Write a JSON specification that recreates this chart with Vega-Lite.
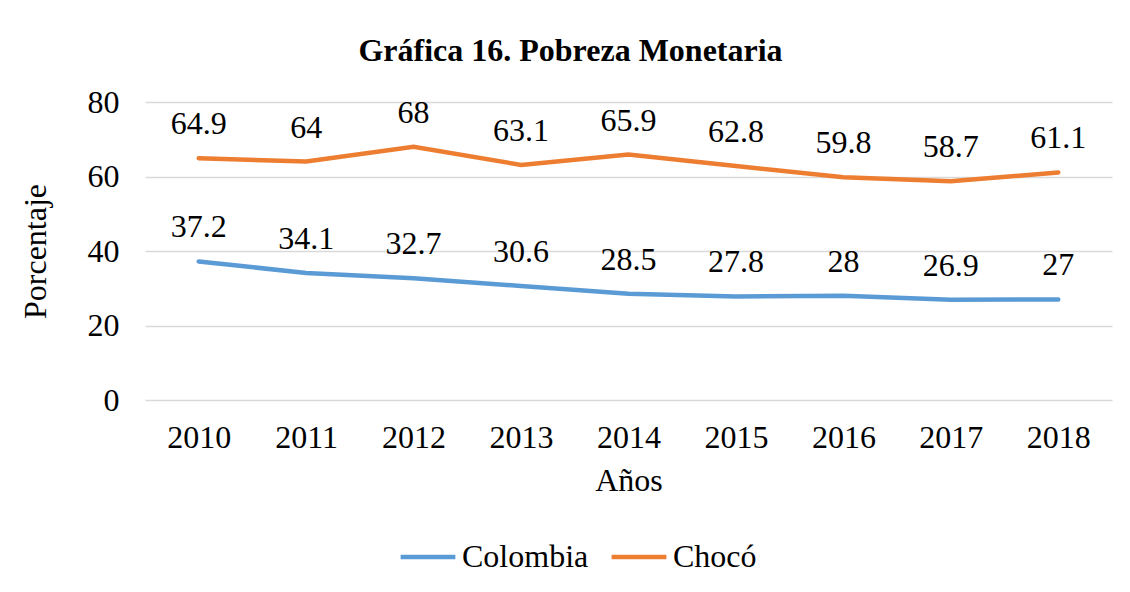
{
  "$schema": "https://vega.github.io/schema/vega-lite/v6.json",
  "width": 967,
  "height": 298,
  "autosize": {"type": "none"},
  "padding": {"left": 145, "top": 102, "right": 18, "bottom": 192},
  "background": "white",
  "config": {
    "font": "Liberation Serif",
    "view": {"stroke": null}
  },
  "title": {
    "text": "Gráfica 16. Pobreza Monetaria",
    "font": "Liberation Serif",
    "fontSize": 32,
    "fontWeight": "bold",
    "color": "black",
    "anchor": "middle",
    "dx": -58,
    "offset": 18
  },
  "data": {
    "values": [
      {"year": "2010", "serie": "Colombia", "value": 37.2},
      {"year": "2011", "serie": "Colombia", "value": 34.1},
      {"year": "2012", "serie": "Colombia", "value": 32.7},
      {"year": "2013", "serie": "Colombia", "value": 30.6},
      {"year": "2014", "serie": "Colombia", "value": 28.5},
      {"year": "2015", "serie": "Colombia", "value": 27.8},
      {"year": "2016", "serie": "Colombia", "value": 28},
      {"year": "2017", "serie": "Colombia", "value": 26.9},
      {"year": "2018", "serie": "Colombia", "value": 27},
      {"year": "2010", "serie": "Chocó", "value": 64.9},
      {"year": "2011", "serie": "Chocó", "value": 64},
      {"year": "2012", "serie": "Chocó", "value": 68},
      {"year": "2013", "serie": "Chocó", "value": 63.1},
      {"year": "2014", "serie": "Chocó", "value": 65.9},
      {"year": "2015", "serie": "Chocó", "value": 62.8},
      {"year": "2016", "serie": "Chocó", "value": 59.8},
      {"year": "2017", "serie": "Chocó", "value": 58.7},
      {"year": "2018", "serie": "Chocó", "value": 61.1}
    ]
  },
  "encoding": {
    "x": {
      "field": "year",
      "type": "ordinal",
      "scale": {"type": "point", "padding": 0.5},
      "axis": {
        "title": "Años",
        "titleFont": "Liberation Serif",
        "titleFontSize": 32,
        "titleFontWeight": "normal",
        "titleColor": "black",
        "titlePadding": 12,
        "labelFont": "Liberation Serif",
        "labelFontSize": 32,
        "labelColor": "black",
        "labelAngle": 0,
        "labelPadding": 22,
        "ticks": false,
        "domain": false,
        "grid": false
      }
    },
    "y": {
      "field": "value",
      "type": "quantitative",
      "scale": {"domain": [0, 80]},
      "axis": {
        "title": "Porcentaje",
        "titleFont": "Liberation Serif",
        "titleFontSize": 32,
        "titleFontWeight": "normal",
        "titleColor": "black",
        "titlePadding": 35,
        "labelFont": "Liberation Serif",
        "labelFontSize": 32,
        "labelColor": "black",
        "labelPadding": 26,
        "labelOverlap": false,
        "values": [0, 20, 40, 60, 80],
        "ticks": false,
        "domain": false,
        "grid": true,
        "gridColor": "#d9d9d9",
        "gridWidth": 1.5
      }
    },
    "color": {
      "field": "serie",
      "type": "nominal",
      "scale": {"domain": ["Colombia", "Chocó"], "range": ["#5B9BD5", "#ED7D31"]},
      "legend": {
        "title": null,
        "orient": "none",
        "legendX": 253,
        "legendY": 425,
        "direction": "horizontal",
        "symbolType": "stroke",
        "symbolSize": 3000,
        "symbolStrokeWidth": 4.5,
        "labelFont": "Liberation Serif",
        "labelFontSize": 32,
        "labelColor": "black",
        "labelOffset": 4,
        "columnPadding": 13
      }
    }
  },
  "layer": [
    {
      "mark": {"type": "line", "strokeWidth": 4.5, "strokeCap": "round"}
    },
    {
      "mark": {"type": "text", "fontSize": 32, "font": "Liberation Serif", "color": "black", "baseline": "middle", "dy": -34},
      "encoding": {
        "text": {"field": "value", "type": "quantitative"},
        "color": {"value": "black"}
      }
    }
  ]
}
